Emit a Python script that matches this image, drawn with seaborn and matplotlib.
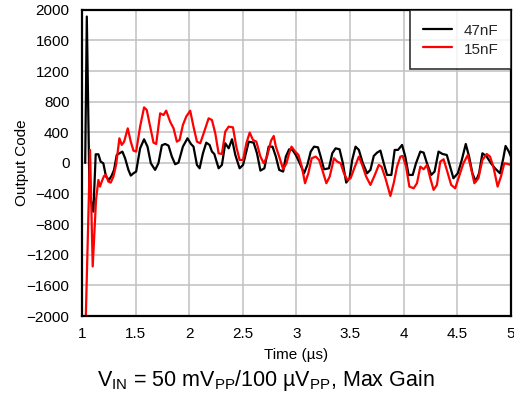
import numpy as np
import pandas as pd
import seaborn as sns
import matplotlib.pyplot as plt

# time axis (us) and output code
t_47nf = [1.030, 1.045, 1.070, 1.106, 1.128, 1.153, 1.174, 1.199, 1.224, 1.252,
          1.277, 1.299, 1.324, 1.349, 1.377, 1.402, 1.433, 1.455, 1.480, 1.505,
          1.542, 1.579, 1.611, 1.642, 1.682, 1.713, 1.745, 1.776, 1.807, 1.838,
          1.869, 1.900, 1.941, 1.984, 2.016, 2.040, 2.072, 2.097, 2.128, 2.159,
          2.190, 2.212, 2.234, 2.274, 2.305, 2.336, 2.368, 2.399, 2.430, 2.470,
          2.502, 2.555, 2.601, 2.632, 2.664, 2.701, 2.741, 2.777, 2.808, 2.839,
          2.876, 2.901, 2.932, 2.963, 2.994, 3.031, 3.071, 3.102, 3.133, 3.164,
          3.201, 3.226, 3.257, 3.303, 3.334, 3.365, 3.402, 3.433, 3.464, 3.495,
          3.520, 3.551, 3.582, 3.619, 3.659, 3.690, 3.721, 3.752, 3.783, 3.814,
          3.845, 3.885, 3.916, 3.947, 3.985, 4.015, 4.046, 4.084, 4.115, 4.155,
          4.186, 4.217, 4.257, 4.288, 4.325, 4.362, 4.402, 4.433, 4.464, 4.505,
          4.542, 4.579, 4.610, 4.641, 4.672, 4.703, 4.734, 4.774, 4.814, 4.851,
          4.898, 4.929, 4.950, 4.981, 5.000]
code_47nf = [0, 1913, -400, -636, 113, 113, 17, -4, -178, -222,
             -165, -91, 104, 126, 148, 61, -91, -165, -135, -113,
             191, 309, 213, -4, -91, -4, 231, 248, 226, 83,
             -17, 4, 213, 322, 248, 213, -26, -70, 126, 265,
             235, 148, 117, -70, -26, 257, 191, 309, 104, -70,
             -26, 278, 265, 126, -100, -70, 213, 213, 83, -91,
             -113, 83, 178, 170, 104, -4, -135, -26, 148, 213,
             204, 83, -83, -70, 126, 191, 178, -4, -257, -200,
             39, 213, 170, -4, -135, -91, 91, 135, 161, -4,
             -157, -157, 170, 170, 235, 83, -157, -157, -4, 148,
             135, -4, -157, -113, 148, 117, 104, -48, -200, -135,
             39, 248, 83, -135, -244, -135, 126, 83, -4, -70,
             -135, 61, 222, 148, 83]

t_15nf = [1.035, 1.075, 1.100, 1.131, 1.153, 1.168, 1.184, 1.206, 1.224, 1.246,
          1.268, 1.293, 1.318, 1.349, 1.371, 1.393, 1.427, 1.455, 1.480, 1.505,
          1.542, 1.579, 1.604, 1.636, 1.667, 1.692, 1.729, 1.760, 1.785, 1.822,
          1.854, 1.885, 1.910, 1.941, 1.972, 2.009, 2.040, 2.072, 2.103, 2.140,
          2.181, 2.212, 2.243, 2.274, 2.305, 2.336, 2.368, 2.408, 2.439, 2.470,
          2.502, 2.533, 2.564, 2.595, 2.626, 2.664, 2.695, 2.726, 2.763, 2.788,
          2.808, 2.839, 2.876, 2.907, 2.932, 2.954, 2.988, 3.019, 3.050, 3.080,
          3.111, 3.142, 3.180, 3.211, 3.241, 3.279, 3.310, 3.350, 3.381, 3.412,
          3.443, 3.474, 3.505, 3.545, 3.582, 3.613, 3.650, 3.690, 3.731, 3.768,
          3.793, 3.830, 3.876, 3.907, 3.938, 3.969, 3.991, 4.022, 4.053, 4.093,
          4.124, 4.155, 4.186, 4.217, 4.248, 4.279, 4.310, 4.341, 4.372, 4.402,
          4.443, 4.480, 4.511, 4.557, 4.598, 4.628, 4.659, 4.697, 4.734, 4.774,
          4.805, 4.836, 4.876, 4.907, 4.938, 4.969, 5.000]
code_15nf = [-2050, 170, -1353, -483, -222, -309, -244, -170, -157, -244,
             -257, -178, -26, 322, 235, 278, 452, 278, 161, 148,
             474, 726, 692, 474, 265, 248, 648, 626, 683, 539,
             452, 278, 300, 496, 605, 683, 474, 278, 257, 409,
             583, 561, 387, 126, 117, 409, 474, 465, 213, 39,
             39, 257, 396, 300, 278, 83, -4, 83, 291, 352,
             213, 83, -83, -4, 126, 213, 148, 104, -48, -265,
             -135, 61, 83, 39, -91, -265, -178, 61, 17, -4,
             -135, -222, -200, -48, 83, -26, -178, -287, -157, -26,
             -48, -200, -431, -265, -48, 83, 91, -48, -309, -331,
             -265, -48, -83, -26, -200, -352, -287, 17, 48, -91,
             -287, -331, -200, -4, 104, -70, -265, -200, 39, 117,
             83, -48, -309, -178, -4, -13, -26]

series_names = ["47nF", "15nF"]
series_colors = ["black", "#ff0000"]

x_ticks = [1, 1.5, 2, 2.5, 3, 3.5, 4, 4.5, 5]
x_labels = ["1", "1.5", "2", "2.5", "3", "3.5", "4", "4.5", "5"]
y_ticks = list(range(-2000, 2001, 400))

df = pd.concat([
    pd.DataFrame({"time": t_47nf, "code": code_47nf, "cap": series_names[0]}),
    pd.DataFrame({"time": t_15nf, "code": code_15nf, "cap": series_names[1]}),
])

sns.set_theme(style="white")
plt.rcParams["font.family"] = ["Liberation Sans", "DejaVu Sans"]
plt.rcParams["mathtext.fontset"] = "custom"
plt.rcParams["mathtext.rm"] = "Liberation Sans"
plt.rcParams["mathtext.it"] = "Liberation Sans"

fig = plt.figure(figsize=(5.14, 3.95), dpi=100)
ax = fig.add_axes([0.1595, 0.2, 0.8345, 0.775])

sns.lineplot(data=df, x="time", y="code", hue="cap", hue_order=series_names,
             palette=series_colors, estimator=None, sort=False,
             linewidth=1.6, ax=ax)

ax.set_xlim(1, 5)
ax.set_ylim(-2000, 2000)
ax.set_xticks(x_ticks)
ax.set_xticklabels(x_labels)
ax.set_yticks(y_ticks)
ax.grid(True, color="#c0c0c0", linewidth=1.1)
ax.set_axisbelow(True)
ax.tick_params(length=0, labelsize=11, colors="black")
ax.tick_params(axis="y", pad=9)
ax.tick_params(axis="x", pad=8)
for s in ax.spines.values():
    s.set_color("black")
    s.set_linewidth(1.6)

ax.set_xlabel("Time (µs)", fontsize=11, color="black", labelpad=5)
ax.set_ylabel("Output Code", fontsize=11, color="black", labelpad=-2)

# legend box flush with the top right corner of the axes
leg = ax.legend(loc="upper right", borderaxespad=0, fancybox=False,
                frameon=True, fontsize=11, handlelength=1.95, handleheight=1.2,
                handletextpad=0.75, labelspacing=0.18, borderpad=0.8)
leg.get_frame().set_edgecolor("black")
leg.get_frame().set_linewidth(1.2)
for line in leg.get_lines():
    line.set_linewidth(1.6)

fig.text(0.517, 0.022, r"V$_{\mathrm{IN}}$ = 50 mV$_{\mathrm{PP}}$/100 µV$_{\mathrm{PP}}$, Max Gain",
         ha="center", va="baseline", fontsize=15.5, color="black")

fig.savefig("out.png", dpi=100)
